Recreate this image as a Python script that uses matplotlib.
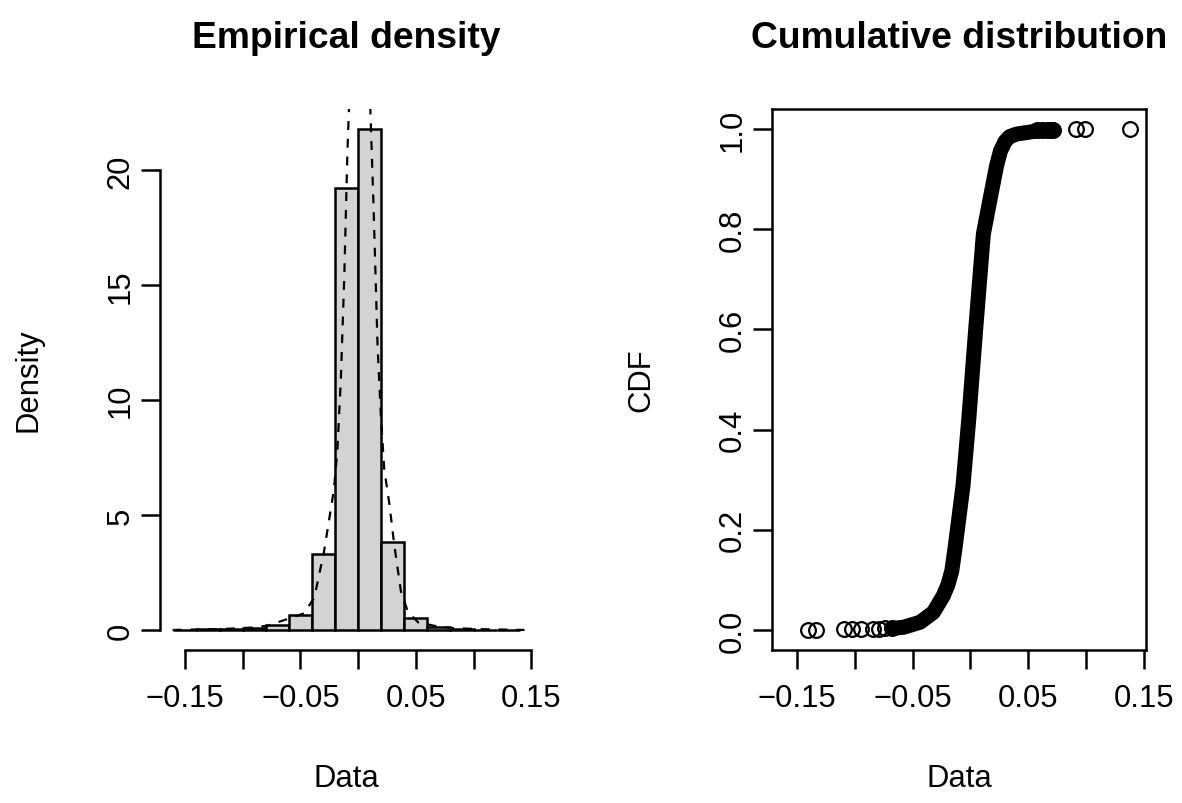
import matplotlib
matplotlib.use('Agg')
import matplotlib.pyplot as plt

# ---------------- data ----------------
hist_breaks = [-0.16, -0.14, -0.12, -0.10, -0.08, -0.06, -0.04, -0.02,
               0.00, 0.02, 0.04, 0.06, 0.08, 0.10, 0.12, 0.14]
hist_density = [0.02, 0.05, 0.03, 0.08, 0.20, 0.64, 3.31, 19.25,
                21.80, 3.81, 0.52, 0.14, 0.04, 0.02, 0.02]

kde_x = [-0.1607, -0.140, -0.122, -0.093, -0.079, -0.0586, -0.047, -0.038,
         -0.0296, -0.021, -0.018, -0.015, -0.012, -0.0093, -0.0078, -0.004,
         0.001, 0.006, 0.0104, 0.0133, 0.0168, 0.0197, 0.0226, 0.027,
         0.0313, 0.037, 0.043, 0.052, 0.066, 0.081, 0.110, 0.1441]
kde_y = [0.0, 0.02, 0.03, 0.10, 0.18, 0.52, 0.72, 1.4,
         3.4, 6.1, 7.8, 10.9, 15.4, 20.8, 22.9, 28.0,
         31.0, 28.0, 22.9, 18.5, 12.4, 9.3, 7.0, 5.5,
         3.7, 1.7, 0.8, 0.33, 0.18, 0.08, 0.03, 0.0]

# dense part of the empirical CDF (centre line of the band of points)
cdf_band_x = [-0.0680, -0.0579, -0.0435, -0.0320, -0.0234, -0.0195, -0.0161,
              -0.0135, -0.0064, -0.0014, 0.0046, 0.0112, 0.0170,
              0.0227, 0.0260, 0.0299, 0.0340, 0.0400, 0.0544, 0.0716]
cdf_band_y = [0.0030, 0.0054, 0.0154, 0.0353, 0.0685, 0.090, 0.118,
              0.160, 0.288, 0.421, 0.601, 0.790, 0.860,
              0.927, 0.956, 0.975, 0.985, 0.990, 0.995, 0.9986]
# individually visible points of the empirical CDF
cdf_pts_x = [-0.1407, -0.1335, -0.1093, -0.1025, -0.0946, -0.0845, -0.0795,
             -0.0737, -0.0680, 0.0580, 0.0620, 0.0660, 0.0690, 0.0716,
             0.0912, 0.0990, 0.1379]
cdf_pts_y = [0.0004, 0.0008, 0.0012, 0.0016, 0.0020, 0.0024, 0.0028,
             0.0032, 0.0036, 0.9972, 0.9976, 0.9980, 0.9984, 0.9988,
             0.9992, 0.9996, 1.0]

x_ticks = [-0.15, -0.10, -0.05, 0.00, 0.05, 0.10, 0.15]
x_tick_labels = ['\u22120.15', '', '\u22120.05', '', '0.05', '', '0.15']
dens_ticks = [0, 5, 10, 15, 20]
cdf_ticks = [0.0, 0.2, 0.4, 0.6, 0.8, 1.0]
cdf_tick_labels = ['0.0', '0.2', '0.4', '0.6', '0.8', '1.0']

# ---------------- figure ----------------
W, H = 1182, 804
DPI = 100
plt.rcParams['font.family'] = ['Liberation Sans', 'DejaVu Sans']
FS = 22.3
LW = 1.8

fig = plt.figure(figsize=(W / DPI, H / DPI), dpi=DPI)


def px_axes(l, t, r, b):
    return [l / W, 1 - b / H, (r - l) / W, (b - t) / H]


XLIM = (-0.172, 0.152)

# ---------- left: histogram ----------
ax1 = fig.add_axes(px_axes(159.6, 110, 533.6, 651))
widths = [hist_breaks[i + 1] - hist_breaks[i] for i in range(len(hist_density))]
ax1.bar(hist_breaks[:-1], hist_density, width=widths, align='edge',
        color='#D3D3D3', edgecolor='black', linewidth=LW)
ax1.plot(kde_x, kde_y, color='black', linewidth=1.6, linestyle=(0, (4, 4)))
ymax = max(hist_density)
ax1.set_xlim(*XLIM)
ax1.set_ylim(-0.04 * ymax, 1.04 * ymax)
for s in ['top', 'right']:
    ax1.spines[s].set_visible(False)
ax1.spines['left'].set_bounds(dens_ticks[0], dens_ticks[-1])
ax1.spines['bottom'].set_bounds(x_ticks[0], x_ticks[-1])
ax1.set_yticks(dens_ticks)
ax1.set_yticklabels([str(t) for t in dens_ticks], rotation=90, va='center')

# ---------- right: CDF ----------
ax2 = fig.add_axes(px_axes(771.7, 110, 1146, 651))
ax2.plot(cdf_band_x, cdf_band_y, color='black', linewidth=10.8,
         solid_capstyle='round', solid_joinstyle='round')
ax2.plot(cdf_pts_x, cdf_pts_y, linestyle='none', marker='o', markersize=10.6,
         markerfacecolor='none', markeredgecolor='black', markeredgewidth=1.6)
ax2.set_xlim(*XLIM)
ax2.set_ylim(-0.04, 1.04)
ax2.set_yticks(cdf_ticks)
ax2.set_yticklabels(cdf_tick_labels, rotation=90, va='center')

for ax in (ax1, ax2):
    ax.set_xticks(x_ticks)
    ax.set_xticklabels(x_tick_labels)
    for s in ax.spines.values():
        s.set_linewidth(LW)
    ax.tick_params(axis='both', direction='out', length=14, width=LW,
                   labelsize=FS, colors='black')
    ax.tick_params(axis='x', pad=10)
    ax.tick_params(axis='y', pad=3)
    ax.set_facecolor('none')

# titles and axis labels
fig.text(346.6 / W, 1 - 48 / H, 'Empirical density', ha='center',
         va='baseline', fontsize=26.8, fontweight='bold')
fig.text(958.9 / W, 1 - 48 / H, 'Cumulative distribution', ha='center',
         va='baseline', fontsize=26.8, fontweight='bold')
fig.text(346.6 / W, 1 - 787 / H, 'Data', ha='center', va='baseline', fontsize=FS)
fig.text(958.9 / W, 1 - 787 / H, 'Data', ha='center', va='baseline', fontsize=FS)
fig.text(29 / W, 1 - 380.5 / H, 'Density', ha='center', va='center',
         rotation=90, fontsize=FS)
fig.text(641 / W, 1 - 380.5 / H, 'CDF', ha='center', va='center',
         rotation=90, fontsize=FS)

fig.savefig('out.png', dpi=DPI)
